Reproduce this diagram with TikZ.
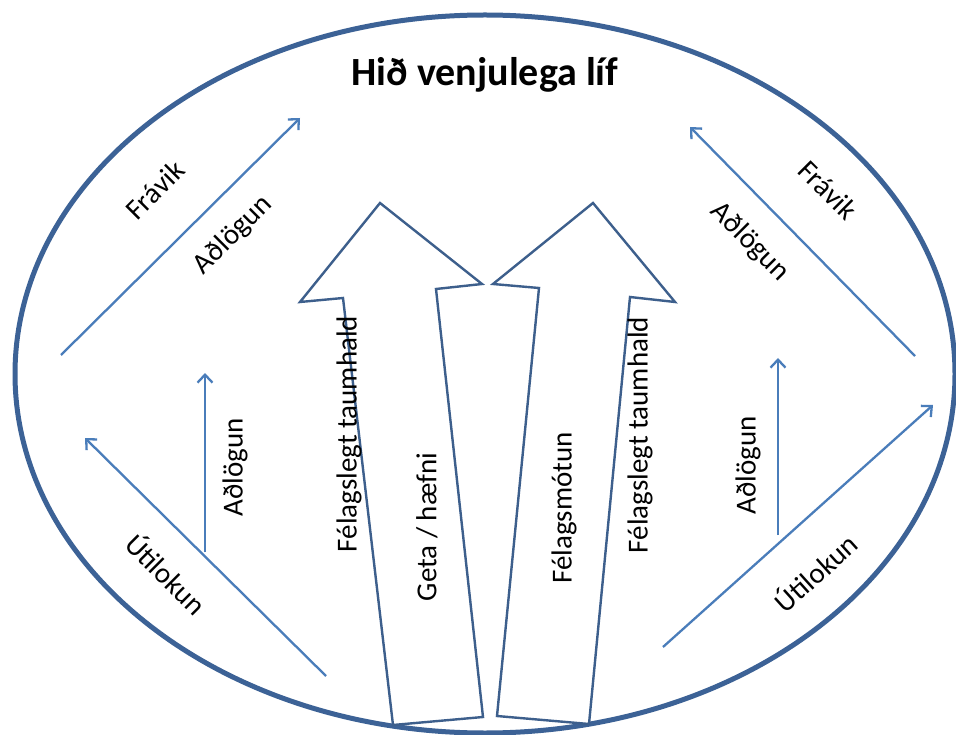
\documentclass[tikz,border=0pt]{standalone}
\usepackage{fontspec}
\setmainfont{Carlito}
\newfontfamily\titlefont{Carlito}
\usetikzlibrary{arrows.meta}
\definecolor{ellblue}{HTML}{3C6296}
\definecolor{arrblue}{HTML}{4A7DBA}
\definecolor{blkblue}{HTML}{3D5F8C}
\begin{document}
\begin{tikzpicture}[x=1pt,y=-1pt,
  ell/.style={draw=ellblue,line width=5pt},
  thinarrow/.style={draw=arrblue,line width=2.3pt,-{Straight Barb[length=8pt,width=15pt]}},
  blockarrow/.style={draw=blkblue,line width=2.4pt,line join=miter,fill=white},
  lbl/.style={font=\fontsize{29}{34}\selectfont,inner sep=0pt,text=black},
  ttl/.style={font=\titlefont\bfseries\fontsize{40}{46}\selectfont,inner sep=0pt}]
\useasboundingbox (0,0) rectangle (956,735);
\fill[white] (0,0) rectangle (956,735);
% outer ellipse
\coordinate (c) at (485,374);
\draw[ell] (c) ellipse [x radius=470pt, y radius=359pt];
\node[ttl] (title) at (485,75) {Hið venjulega líf};
% left block arrow
\coordinate (L1) at (343,298); \coordinate (L2) at (300,302); \coordinate (L3) at (380,203);
\coordinate (L4) at (482,284); \coordinate (L5) at (436,289); \coordinate (L6) at (483,717);
\coordinate (L7) at (393,725);
\draw[blockarrow] (L1) -- (L2) -- (L3) -- (L4) -- (L5) -- (L6) -- (L7) -- cycle;
% right block arrow
\coordinate (R1) at (539,288); \coordinate (R2) at (493,284); \coordinate (R3) at (593,203);
\coordinate (R4) at (675,302); \coordinate (R5) at (630,297); \coordinate (R6) at (589,724);
\coordinate (R7) at (497,716);
\draw[blockarrow] (R1) -- (R2) -- (R3) -- (R4) -- (R5) -- (R6) -- (R7) -- cycle;
% thin arrows
\coordinate (a1s) at (61,355);  \coordinate (a1e) at (300,118);
\coordinate (a2s) at (915,356); \coordinate (a2e) at (690,127);
\coordinate (a3s) at (326,676); \coordinate (a3e) at (85,438);
\coordinate (a4s) at (205,552); \coordinate (a4e) at (205,373);
\coordinate (a5s) at (778,535); \coordinate (a5e) at (778,358);
\coordinate (a6s) at (663,647); \coordinate (a6e) at (933,405);
\draw[thinarrow] (a1s) -- (a1e);
\draw[thinarrow] (a2s) -- (a2e);
\draw[thinarrow] (a3s) -- (a3e);
\draw[thinarrow] (a4s) -- (a4e);
\draw[thinarrow] (a5s) -- (a5e);
\draw[thinarrow] (a6s) -- (a6e);
% labels
\node[lbl,rotate=45] (fravikL) at (155,190) {Frávik};
\node[lbl,rotate=45] (adlogunLT) at (233,235) {Aðlögun};
\node[lbl,rotate=-45] (fravikR) at (828,190) {Frávik};
\node[lbl,rotate=-45] (adlogunRT) at (750,242) {Aðlögun};
\node[lbl,rotate=90] (adlogunLV) at (235,467) {Aðlögun};
\node[lbl,rotate=90] (adlogunRV) at (748,465) {Aðlögun};
\node[lbl,rotate=-45] (utilokunL) at (167,573) {Útilokun};
\node[lbl,rotate=42] (utilokunR) at (815,572) {Útilokun};
\node[lbl,rotate=90] (taumL) at (349,434) {Félagslegt taumhald};
\node[lbl,rotate=90] (geta) at (427,527) {Geta / hæfni};
\node[lbl,rotate=90] (motun) at (564,508) {Félagsmótun};
\node[lbl,rotate=90] (taumR) at (640,435) {Félagslegt taumhald};
\end{tikzpicture}
\end{document}
